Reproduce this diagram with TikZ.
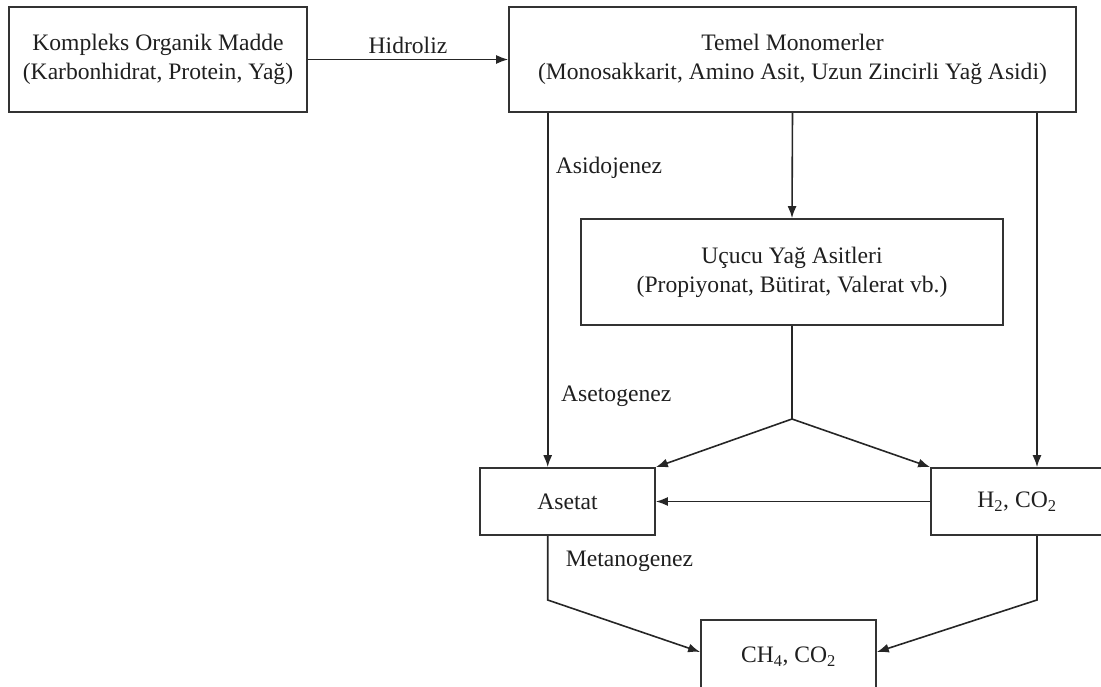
\documentclass[tikz,border=0pt]{standalone}
\usepackage{fontspec}
\setmainfont{Liberation Serif}
\usetikzlibrary{arrows.meta,calc}
\begin{document}
\begin{tikzpicture}[x=1pt,y=-1pt,
  txt/.style={font=\fontsize{23.6}{29}\selectfont, text=black!88},
  box/.style={txt, draw=black!80, line width=1.7pt, align=center, inner sep=0pt},
  link/.style={draw=black!85, line width=1.6pt},
  arr/.style={link, -{Latex[length=12pt,width=9pt]}},
  lbl/.style={txt, inner sep=0pt, anchor=west}]
\useasboundingbox (0,0) rectangle (1101,687);

% process stages
\node[box, minimum width=298pt, minimum height=105pt] (organik) at (158,59.5)
  {Kompleks Organik Madde\\(Karbonhidrat, Protein, Yağ)};
\node[box, minimum width=567pt, minimum height=105pt] (monomer) at (792.5,59.5)
  {Temel Monomerler\\(Monosakkarit, Amino Asit, Uzun Zincirli Yağ Asidi)};
\node[box, minimum width=422pt, minimum height=106pt] (uya) at (792,272)
  {Uçucu Yağ Asitleri\\(Propiyonat, Bütirat, Valerat vb.)};
\node[box, minimum width=175pt, minimum height=67pt] (asetat) at (567.5,501.5) {Asetat};
\node[box, minimum width=172pt, minimum height=67pt] (hco) at (1017,501.5)
  {H\textsubscript{2}, CO\textsubscript{2}};
\node[box, minimum width=175pt, minimum height=73pt] (metan) at (788.5,656.5)
  {CH\textsubscript{4}, CO\textsubscript{2}};

% helper points for the side branches
\coordinate (xl) at (547.7,0);
\coordinate (xr) at (1037,0);
\coordinate (split) at (792,419);
\coordinate (bl) at (547.7,600);
\coordinate (br) at (1037,600);

% hydrolysis
\draw[arr] (organik.east) -- node[txt, above=5pt, inner sep=0pt] {Hidroliz} (monomer.west);

% acidogenesis
\draw[arr] (monomer.south -| xl) -- (asetat.north -| xl);
\draw[arr] (monomer.south) -- (uya.north);
\draw[arr] (monomer.south -| xr) -- (hco.north -| xr);

% acetogenesis
\draw[link] (uya.south) -- (split);
\draw[arr] (split) -- (asetat.north east);
\draw[arr] (split) -- (hco.north west);
\draw[arr] (hco.west) -- (asetat.east);

% methanogenesis
\draw[arr] (asetat.south -| xl) -- (bl) -- ([yshift=4.5pt]metan.west);
\draw[arr] (hco.south -| xr) -- (br) -- ([yshift=4.5pt]metan.east);

% stage labels
\node[lbl] (lasido) at (555.7,168) {Asidojenez};
\node[lbl] (laseto) at (561,396) {Asetogenez};
\node[lbl] (lmetan) at (565.7,561.7) {Metanogenez};
\end{tikzpicture}
\end{document}
